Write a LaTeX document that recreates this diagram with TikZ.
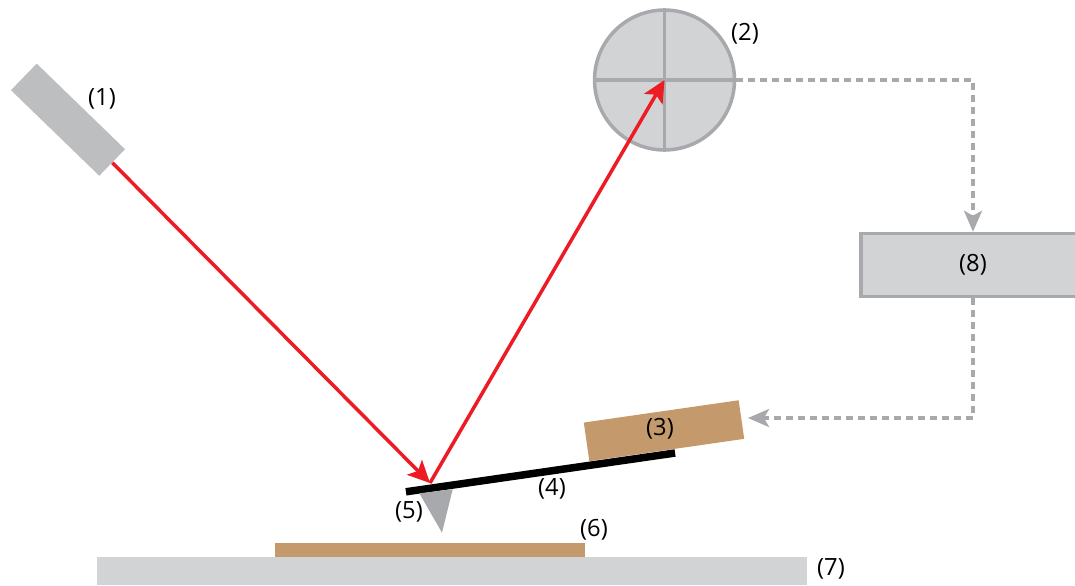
\documentclass[tikz,border=0pt]{standalone}
\usepackage{fontspec}
\setmainfont{Open Sans}
\definecolor{afmred}{HTML}{ED1C24}
\definecolor{afmgrey}{HTML}{A7A9AC}
\definecolor{afmlight}{HTML}{D1D3D4}
\definecolor{afmlaser}{HTML}{BCBEC0}
\definecolor{afmbrown}{HTML}{C49A6C}
\usetikzlibrary{arrows.meta,positioning}
\tikzset{
  numlabel/.style={font=\fontsize{13.5}{15}\selectfont,inner sep=0pt},
  beam/.style={-{Stealth[length=0.44cm,width=0.42cm,inset=0.1cm]},afmred,line width=0.07cm},
  signal/.style={-{Stealth[length=0.42cm,width=0.36cm,inset=0.1cm]},afmgrey,line width=0.07cm,dash pattern=on 0.13cm off 0.11cm},
}

\begin{document}
\begin{tikzpicture}[x=0.02cm,y=-0.02cm]
  \useasboundingbox (0,0) rectangle (1075,585);
  % Stage and sample
  \node[fill=afmlight,minimum width=14.2cm,minimum height=0.56cm,inner sep=0pt] (stage) at (452,571) {};
  \node[fill=afmbrown,minimum width=6.2cm,minimum height=0.28cm,inner sep=0pt] (sample) at (430,549.7) {};
  % Laser
  \node[fill=afmlaser,minimum width=2.46cm,minimum height=0.74cm,inner sep=0pt,rotate=-44.1] (laser) at (68,119.7) {};
  % Detector
  \node[draw=afmgrey,fill=afmlight,line width=0.07cm,circle,minimum size=2.8cm,inner sep=0pt] (det) at (664.5,80) {};
  \draw[afmgrey,line width=0.07cm] (det.north) -- (det.south);
  \draw[afmgrey,line width=0.07cm] (det.west) -- (det.east);
  % Controller
  \node[draw=afmgrey,fill=afmlight,line width=0.07cm,minimum width=4.48cm,minimum height=1.26cm,inner sep=0pt,numlabel] (ctrl) at (973,265) {(8)};
  % Piezo and cantilever
  \node[fill=afmbrown,minimum width=3.13cm,minimum height=0.78cm,inner sep=0pt,rotate=8.2] (piezo) at (664,430.7) {};
  \node[fill=black,minimum width=5.44cm,minimum height=0.15cm,inner sep=0pt,rotate=8.2] (lever) at (540.5,472.4) {};
  % Tip
  \fill[afmgrey] (419.3,493.3) -- (452.7,489.3) -- (442,532.7) -- cycle;
  \coordinate (spot) at (430,483);
  \coordinate (piezoin) at (748,418);
  % Beam
  \draw[beam] (laser.east) -- (spot);
  \draw[beam] (spot) -- (det.center);
  % Feedback
  \draw[signal] (det.east) -| (ctrl.north);
  \draw[signal] (ctrl.south) |- (piezoin);
  % Labels
  \node[numlabel] (n1) at (102,99) {(1)};
  \node[numlabel] (n2) at (745,34) {(2)};
  \node[numlabel] (n3) at (660,429) {(3)};
  \node[numlabel] (n4) at (552,489) {(4)};
  \node[numlabel] (n5) at (409,512) {(5)};
  \node[numlabel] (n6) at (594,530) {(6)};
  \node[numlabel] (n7) at (831,569) {(7)};
\end{tikzpicture}
\end{document}
